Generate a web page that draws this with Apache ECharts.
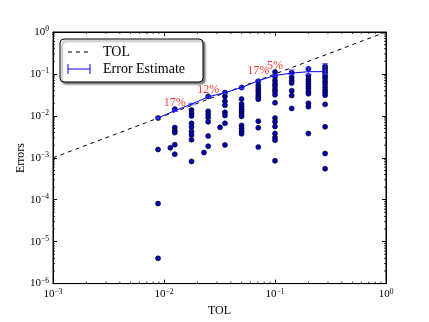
<!DOCTYPE html>
<html>
<head>
<meta charset="utf-8">
<script src="https://cdn.jsdelivr.net/npm/echarts@6/dist/echarts.min.js"></script>
<style>
html, body { margin: 0; padding: 0; background: #fff; }
#main { width: 429px; height: 322px; }
</style>
</head>
<body>
<div id="main"></div>
<script>
// TOL values of the runs (one column of points per TOL)
var tols = [0.00884, 0.0125, 0.0177, 0.025, 0.0354, 0.05, 0.0707, 0.1, 0.1414, 0.2, 0.2828];

// mean error estimate and its error bar
var estimate = [0.00889, 0.01328, 0.0191, 0.0283, 0.0359, 0.0473, 0.0689, 0.0918, 0.1047, 0.1132, 0.1132];
var errLow  = [0.0085, 0.0127, 0.0183, 0.0272, 0.0345, 0.0455, 0.0662, 0.0882, 0.0953, 0.0984, 0.0984];
var errHigh = [0.0093, 0.0139, 0.0199, 0.0294, 0.0373, 0.0491, 0.0716, 0.0955, 0.1237, 0.1395, 0.1746];

// observed errors for each TOL
var errors0  = [0.00889, 0.00158, 0.000081, 0.000004];
var errors1  = [0.0145, 0.00527, 0.00444, 0.00399, 0.00206, 0.00122];
var errors2  = [0.01378, 0.01153, 0.00997, 0.00663, 0.00541, 0.00421, 0.00351, 0.0027, 0.00082];
var errors3  = [0.0291, 0.01282, 0.01079, 0.00908, 0.00721, 0.0033, 0.00189];
var errors4  = [0.0359, 0.0291, 0.0224, 0.0179, 0.01216, 0.01023, 0.00663, 0.00203];
var errors5  = [0.0473, 0.0253, 0.0191, 0.0164, 0.01437, 0.01261, 0.01107, 0.00971, 0.00591, 0.00506, 0.00432, 0.00373];
var errors6  = [0.0671, 0.0536, 0.0466, 0.0408, 0.0359, 0.0311, 0.0276, 0.0249, 0.00748, 0.00519, 0.0018];
var errors7  = [0.1114, 0.0859, 0.0697, 0.0583, 0.0509, 0.0426, 0.0378, 0.0318, 0.0205, 0.00889, 0.00721, 0.00556, 0.00379, 0.00303, 0.00263, 0.00085];
var errors8  = [0.1074, 0.0827, 0.0697, 0.0604, 0.0398, 0.0306, 0.015];
var errors9  = [0.1324, 0.0904, 0.0757, 0.0671, 0.0583, 0.0509, 0.0449, 0.0378, 0.0335, 0.0199, 0.0166, 0.00379];
var errors10 = [0.1525, 0.1345, 0.1174, 0.1019, 0.0885, 0.0785, 0.0671, 0.0583, 0.0491, 0.0413, 0.0359, 0.0311, 0.0188, 0.00547, 0.00127, 0.00055];
var errorsByTol = [errors0, errors1, errors2, errors3, errors4, errors5, errors6, errors7, errors8, errors9, errors10];

// a few points off the TOL columns
var extraX = [0.0114, 0.0229, 0.032];
var extraY = [0.00173, 0.00133, 0.00532];

// reference line Errors = TOL
var tolLineX = [0.001, 1];
var tolLineY = [0.001, 1];

// percentage annotations
var pctText = ['17%', '12%', '17%', '5%'];
var pctX = [0.0125, 0.025, 0.0707, 0.1];
var pctY = [0.0205, 0.0413, 0.1174, 0.1525];

var SERIF = '"Liberation Serif", "DejaVu Serif", serif';

var scatterData = [];
errorsByTol.forEach(function (col, i) {
    col.forEach(function (e) { scatterData.push([tols[i], e]); });
});
extraX.forEach(function (x, i) { scatterData.push([x, extraY[i]]); });

var estData = tols.map(function (t, i) { return [t, estimate[i]]; });
var barData = tols.map(function (t, i) { return [t, errLow[i], errHigh[i]]; });
var pctData = pctText.map(function (s, i) { return { value: [pctX[i], pctY[i]], name: s }; });

// minor tick positions (2..9 x 10^k)
var minorX = [], minorY = [];
for (var k = -6; k < 0; k++) {
    for (var m = 2; m <= 9; m++) {
        if (k >= -3) minorX.push([m * Math.pow(10, k), 1e-6]);
        minorY.push([0.001, m * Math.pow(10, k)]);
    }
}

function powLabel(v) {
    var e = Math.round(Math.log10(v));
    return '{b|10}{s|' + (e < 0 ? '\u2212' + (-e) : e) + '}';
}
var labelRich = {
    b: { fontFamily: SERIF, fontSize: 11, color: '#000', lineHeight: 14 },
    s: { fontFamily: SERIF, fontSize: 7.5, color: '#000', verticalAlign: 'top', lineHeight: 9 }
};

function seg(x1, y1, x2, y2, color, w) {
    return { type: 'line', shape: { x1: x1, y1: y1, x2: x2, y2: y2 }, style: { stroke: color, lineWidth: w } };
}

var myChart = echarts.init(document.getElementById('main'));

var option = {
    animation: false,
    grid: { left: 53, right: 43, top: 32, bottom: 25, show: true, borderColor: '#000', borderWidth: 1 },
    xAxis: [{
        type: 'log', min: 0.001, max: 1, logBase: 10,
        name: 'TOL', nameLocation: 'middle', nameGap: 20,
        nameTextStyle: { fontFamily: SERIF, fontSize: 12, color: '#000' },
        axisLine: { show: true, onZero: false, lineStyle: { color: '#000' } },
        axisTick: { inside: true, length: 4, lineStyle: { color: '#000' } },
        axisLabel: { formatter: powLabel, rich: labelRich, margin: 4 },
        splitLine: { show: false }
    }, {
        type: 'log', min: 0.001, max: 1, position: 'top',
        axisLine: { show: true, onZero: false, lineStyle: { color: '#000' } },
        axisTick: { inside: true, length: 4, lineStyle: { color: '#000' } },
        axisLabel: { show: false }, splitLine: { show: false }
    }],
    yAxis: [{
        type: 'log', min: 1e-6, max: 1, logBase: 10,
        axisLine: { show: true, onZero: false, lineStyle: { color: '#000' } },
        axisTick: { inside: true, length: 4, lineStyle: { color: '#000' } },
        axisLabel: { formatter: powLabel, rich: labelRich, margin: 4 },
        splitLine: { show: false }
    }, {
        type: 'log', min: 1e-6, max: 1, position: 'right',
        axisLine: { show: true, onZero: false, lineStyle: { color: '#000' } },
        axisTick: { inside: true, length: 4, lineStyle: { color: '#000' } },
        axisLabel: { show: false }, splitLine: { show: false }
    }],
    series: [{
        // minor ticks on x (bottom and top)
        type: 'custom', silent: true, z: 1,
        data: minorX,
        renderItem: function (params, api) {
            var cs = params.coordSys;
            var p = api.coord([api.value(0), api.value(1)]);
            var b = cs.y + cs.height;
            return { type: 'group', children: [
                seg(p[0], b, p[0], b - 2, '#000', 0.8),
                seg(p[0], cs.y, p[0], cs.y + 2, '#000', 0.8)
            ] };
        }
    }, {
        // minor ticks on y (left and right)
        type: 'custom', silent: true, z: 1,
        data: minorY,
        renderItem: function (params, api) {
            var cs = params.coordSys;
            var p = api.coord([api.value(0), api.value(1)]);
            var r = cs.x + cs.width;
            return { type: 'group', children: [
                seg(cs.x, p[1], cs.x + 2, p[1], '#000', 0.8),
                seg(r, p[1], r - 2, p[1], '#000', 0.8)
            ] };
        }
    }, {
        name: 'TOL', type: 'line', z: 2,
        data: tolLineX.map(function (x, i) { return [x, tolLineY[i]]; }),
        showSymbol: false,
        lineStyle: { color: '#000', width: 1, type: [4, 4] }
    }, {
        type: 'scatter', z: 3,
        data: scatterData,
        symbolSize: 5,
        itemStyle: { color: '#0000b4', borderColor: '#000', borderWidth: 0.6, opacity: 1 }
    }, {
        name: 'Error Estimate', type: 'line', z: 4,
        data: estData, showSymbol: false,
        lineStyle: { color: '#0000ff', width: 1 }
    }, {
        // error bars of the estimate
        type: 'custom', z: 4,
        data: barData,
        encode: { x: 0, y: [1, 2] },
        renderItem: function (params, api) {
            var lo = api.coord([api.value(0), api.value(1)]);
            var hi = api.coord([api.value(0), api.value(2)]);
            var c = '#4040ff';
            return { type: 'group', children: [
                seg(lo[0], lo[1], hi[0], hi[1], c, 1),
                seg(lo[0] - 3, lo[1], lo[0] + 3, lo[1], c, 1),
                seg(hi[0] - 3, hi[1], hi[0] + 3, hi[1], c, 1)
            ] };
        }
    }, {
        type: 'scatter', z: 5,
        data: pctData, symbolSize: 0,
        label: {
            show: true, position: 'inside', formatter: '{b}',
            color: '#ff0000', fontFamily: SERIF, fontSize: 12
        }
    }],
    graphic: [{
        type: 'text', x: 21, y: 158, rotation: Math.PI / 2,
        style: { text: 'Errors', fill: '#000', font: '12px ' + SERIF, align: 'center', verticalAlign: 'middle' }
    }, {
        type: 'rect', z: 10,
        shape: { x: 60, y: 39, width: 143, height: 43, r: 4 },
        style: { fill: '#fff', stroke: '#000', lineWidth: 1,
                 shadowBlur: 2, shadowOffsetX: 2, shadowOffsetY: 2, shadowColor: 'rgba(0,0,0,0.5)' }
    }, {
        type: 'line', z: 11,
        shape: { x1: 68, y1: 52, x2: 91, y2: 52 },
        style: { stroke: '#000', lineWidth: 1, lineDash: [4, 4] }
    }, {
        type: 'text', z: 11, x: 103, y: 52,
        style: { text: 'TOL', fill: '#000', font: '14px ' + SERIF, verticalAlign: 'middle' }
    }, {
        type: 'line', z: 11, shape: { x1: 68, y1: 69, x2: 90, y2: 69 },
        style: { stroke: '#0000ff', lineWidth: 1 }
    }, {
        type: 'line', z: 11, shape: { x1: 68, y1: 64, x2: 68, y2: 74 },
        style: { stroke: '#0000ff', lineWidth: 1 }
    }, {
        type: 'line', z: 11, shape: { x1: 90, y1: 64, x2: 90, y2: 74 },
        style: { stroke: '#0000ff', lineWidth: 1 }
    }, {
        type: 'text', z: 11, x: 103, y: 69,
        style: { text: 'Error Estimate', fill: '#000', font: '14px ' + SERIF, verticalAlign: 'middle' }
    }]
};

myChart.setOption(option);
</script>
</body>
</html>
